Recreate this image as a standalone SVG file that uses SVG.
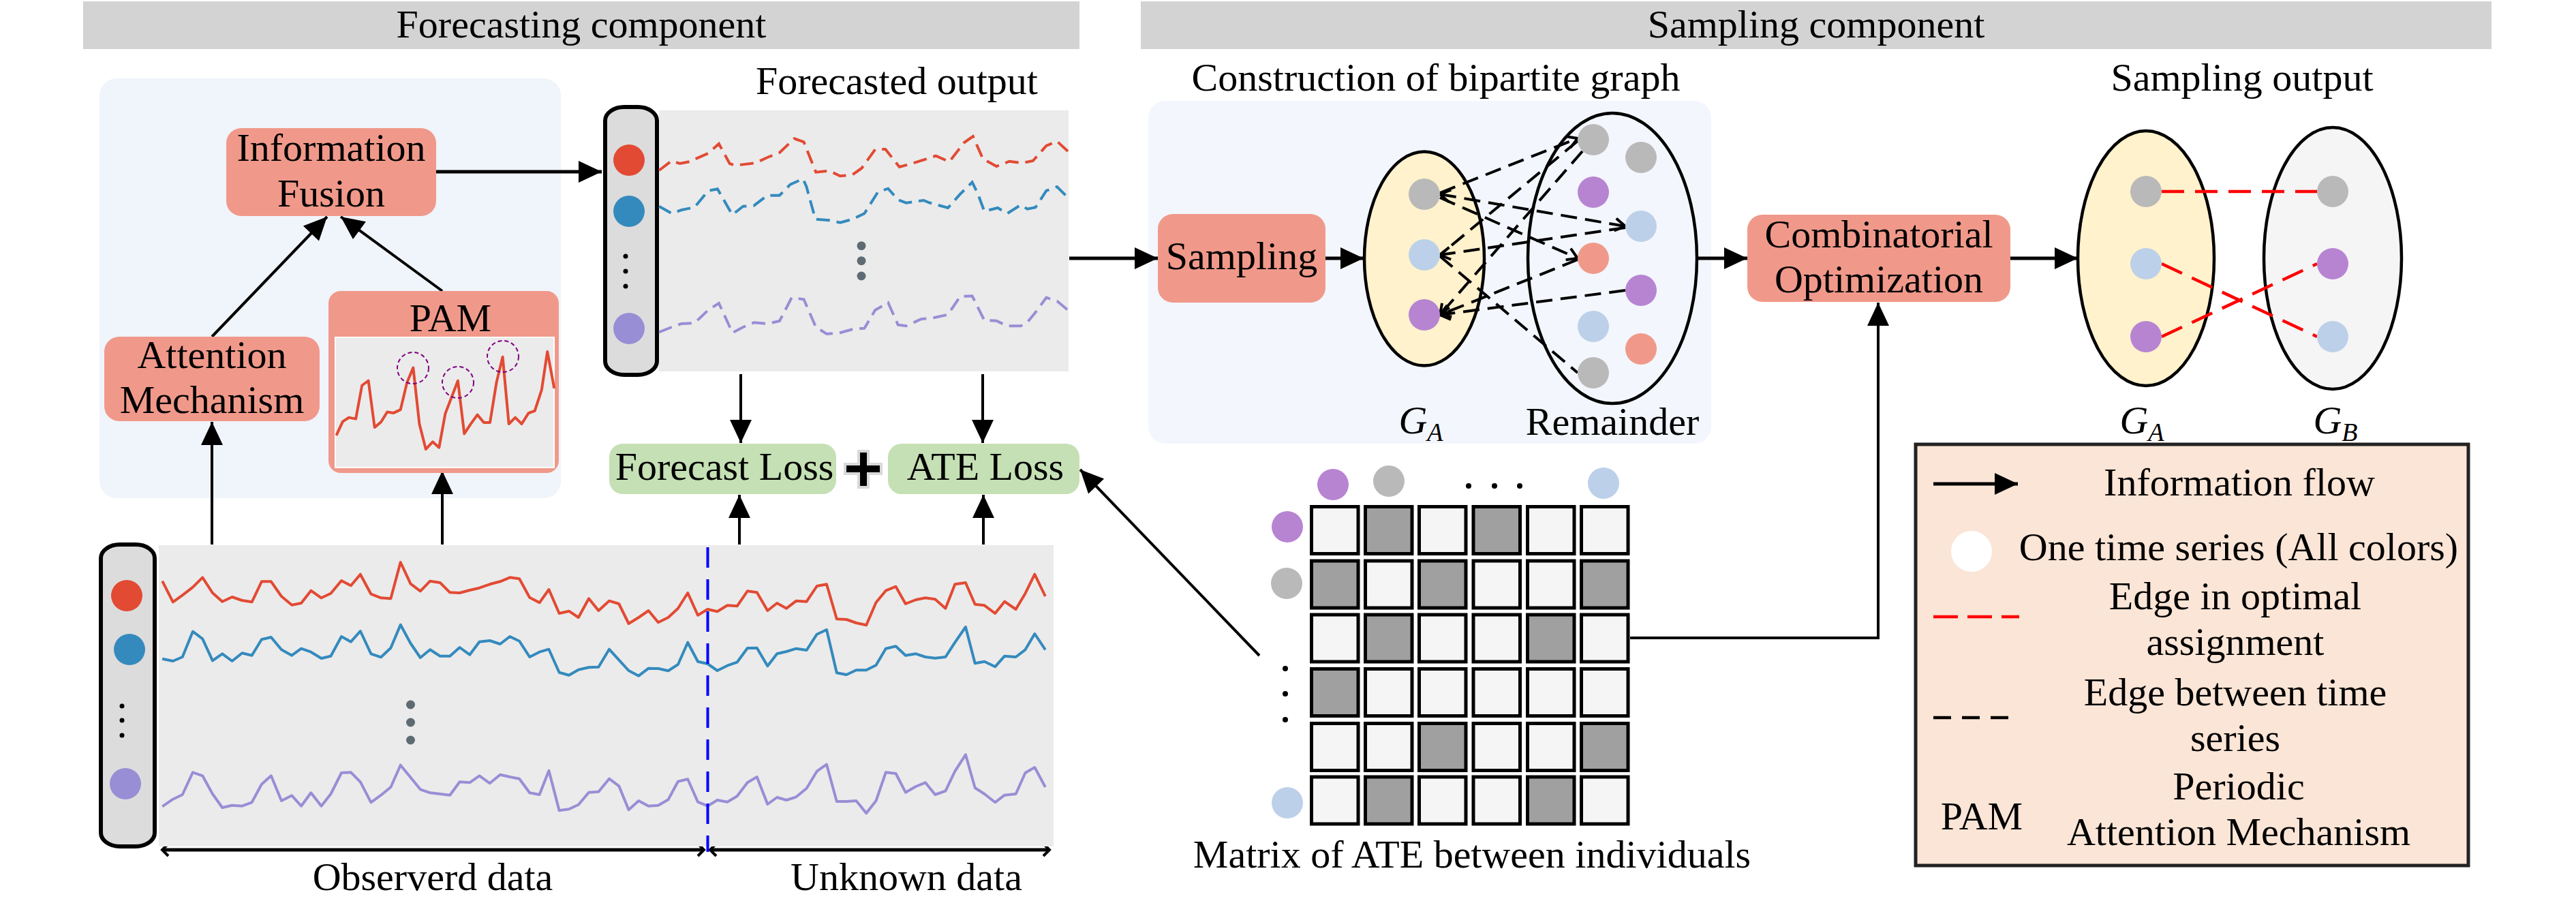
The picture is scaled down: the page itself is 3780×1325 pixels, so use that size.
<svg xmlns="http://www.w3.org/2000/svg" width="3780" height="1325" viewBox="0 0 3780 1325">
<style>
text{font-family:"Liberation Serif","Times New Roman",serif;font-size:58px;fill:#000;text-anchor:middle}
.it{font-style:italic}
.box{fill:#F0998A}
.loss{fill:#C5E0B4}
.conn{stroke:#000;stroke-width:4;fill:none}
.thick{stroke:#000;stroke-width:5;fill:none}
.ts{fill:none;stroke-width:4;stroke-linejoin:round}
.tsd{fill:none;stroke-width:4;stroke-dasharray:20 10}
.red{stroke:#E24A33}.blue{stroke:#348ABD}.pur{stroke:#988ED5}
.ng{fill:#B9B9B9}.np{fill:#B784D2}.nb{fill:#BCD0E9}.ns{fill:#F0998A}
.bip{stroke:#000;stroke-width:4;fill:none;stroke-dasharray:24 12}
.opt{stroke:#FF0000;stroke-width:4.5;fill:none;stroke-dasharray:33 16}
.cl{fill:#F5F5F5;stroke:#000;stroke-width:5}
.cd{fill:#A0A0A0;stroke:#000;stroke-width:5}
.dot{fill:#5F6B73}
</style>
<defs>
<marker id="ah" markerUnits="userSpaceOnUse" markerWidth="34" markerHeight="32" refX="34" refY="16" orient="auto" overflow="visible"><path d="M0,0 L34,16 L0,32 z" fill="#000"/></marker>
<marker id="chev" markerUnits="userSpaceOnUse" markerWidth="24" markerHeight="24" refX="16" refY="9" orient="auto-start-reverse" overflow="visible"><path d="M1,0 L16,9 L1,18" fill="none" stroke="#000" stroke-width="4"/></marker>
<marker id="chev2" markerUnits="userSpaceOnUse" markerWidth="16" markerHeight="20" refX="9" refY="9" orient="auto-start-reverse" overflow="visible"><path d="M0,0 L9,9 L0,18" fill="none" stroke="#000" stroke-width="4"/></marker>
</defs>

<rect width="3780" height="1325" fill="#fff"/>

<!-- header bars -->
<g id="hdr-forecast"><rect x="122" y="2" width="1462" height="70" fill="#D3D3D3"/><text x="853" y="55">Forecasting component</text></g>
<g id="hdr-sampling"><rect x="1674" y="2" width="1982" height="70" fill="#D3D3D3"/><text x="2665" y="55">Sampling component</text></g>

<!-- panels -->
<rect id="panel-left" x="146" y="115" width="677" height="616" rx="25" fill="#F0F4FB"/>
<rect id="panel-bip" x="1685" y="148" width="826" height="503" rx="25" fill="#F3F6FC"/>

<!-- connectors -->
<g id="connectors">
<path class="thick" d="M640,252 H883" marker-end="url(#ah)"/>
<path class="conn" d="M311,494 L480,318" marker-end="url(#ah)"/>
<path class="conn" d="M649,427 L500,318" marker-end="url(#ah)"/>
<path class="conn" d="M311,799 V619" marker-end="url(#ah)"/>
<path class="conn" d="M649,799 V691" marker-end="url(#ah)"/>
<path class="conn" d="M1087,549 V650" marker-end="url(#ah)"/>
<path class="conn" d="M1442,549 V650" marker-end="url(#ah)"/>
<path class="conn" d="M1085,799 V726" marker-end="url(#ah)"/>
<path class="conn" d="M1443,799 V726" marker-end="url(#ah)"/>
<path class="thick" d="M1569,379 H1699" marker-end="url(#ah)"/>
<path class="thick" d="M1945,379 H2001" marker-end="url(#ah)"/>
<path class="thick" d="M2490,379 H2564" marker-end="url(#ah)"/>
<path class="thick" d="M2950,379 H3049" marker-end="url(#ah)"/>
<path class="conn" d="M2392,936 H2756 V444" marker-end="url(#ah)"/>
<path class="conn" d="M1848,962 L1585,689" marker-end="url(#ah)"/>
<path class="thick" d="M238,1247 H1033" marker-start="url(#chev2)" marker-end="url(#chev2)"/>
<path class="thick" d="M1042,1247 H1540" marker-start="url(#chev2)" marker-end="url(#chev2)"/>
</g>

<!-- Information Fusion -->
<g id="info-fusion"><rect class="box" x="332" y="188" width="308" height="129" rx="22"/><text x="486" y="236">Information</text><text x="486" y="303">Fusion</text></g>
<g id="attention"><rect class="box" x="153" y="494" width="316" height="124" rx="22"/><text x="311" y="540">Attention</text><text x="311" y="606">Mechanism</text></g>
<g id="pam">
<rect class="box" x="482" y="427" width="338" height="267" rx="18"/>
<text x="661" y="486">PAM</text>
<rect x="492" y="495" width="321" height="191" fill="#EBEBEB" stroke="#fff" stroke-width="2"/>
<polyline class="ts red" points="493.5,638.9 502.9,618.7 512,612.6 522.1,614.6 531.2,565.5 540.6,558.7 549.7,627.1 559.1,619.3 568.2,604.5 577.6,605.9 587.7,601.1 597.2,561.4 606.3,539.5 615.4,622 624.8,659.1 634.9,648.3 644.3,656.7 653.4,606.9 671.9,558.7 681.3,636.5 690.4,622.7 700.5,608.6 710,620 719,620 728.5,561.4 737.6,523.7 746.7,622 756.1,612.6 765.5,622 775.6,606.2 784.7,602.8 794.8,572.2 803.2,516 813.3,569.8"/>
<g fill="none" stroke="#800080" stroke-width="2" stroke-dasharray="6 4"><circle cx="606" cy="540" r="23"/><circle cx="672" cy="561" r="23"/><circle cx="738" cy="523" r="23"/></g>
</g>

<!-- forecasted output -->
<g id="forecast-output">
<text x="1316" y="138">Forecasted output</text>
<rect x="888" y="157" width="76" height="393" rx="28" ry="20" fill="#DCDCDC" stroke="#000" stroke-width="6"/>
<circle cx="923" cy="235" r="23" fill="#E24A33"/>
<circle cx="923" cy="310" r="23" fill="#348ABD"/>
<circle cx="918" cy="376" r="3.5"/><circle cx="918" cy="398" r="3.5"/><circle cx="918" cy="420" r="3.5"/>
<circle cx="923" cy="482" r="23" fill="#988ED5"/>
<rect x="967" y="162" width="601" height="383" fill="#EBEBEB"/>
<polyline class="tsd red" points="967.1,250 985.7,236 997.6,240 1011.4,237.3 1039.1,225 1054.9,211 1070.7,240 1078.6,242.7 1108.3,239.3 1126.1,231 1143.9,224 1165.6,203.3 1179.5,208.3 1197.2,252.7 1217,250.7 1232.8,258.3 1250.6,256.7 1264.5,246.7 1284.2,219.3 1299.3,219 1319.8,245 1345.5,237.7 1373.2,228.7 1393,237.3 1414.7,209.3 1427.8,200 1442.4,233.3 1462.2,244 1481.2,236.7 1499.7,239.3 1515.6,236 1535.3,214 1551.1,207.3 1567,222"/>
<polyline class="tsd blue" points="967.1,302.7 985.7,313.3 999.5,308.3 1019.3,304 1039.1,280 1052.9,277.3 1068.7,305 1074.7,315 1090.5,302.7 1106.3,301.7 1126.1,286.7 1143.9,286.7 1159.7,270.7 1178.3,262.3 1183.4,274 1196.5,321.7 1217,323.3 1232.8,326.7 1250.6,321.7 1268.4,313.3 1288.2,281.7 1303.2,276.7 1317.8,293.3 1329.7,297.7 1355.4,294 1363.3,297.3 1391,305 1408.8,285 1426.6,267.3 1434.5,283.3 1444.4,310 1464.1,305 1478,313.3 1497.8,300.7 1507.6,306.7 1519.5,304.3 1535.3,280 1551.1,274 1567,290"/>
<polyline class="tsd pur" points="967.1,487.3 985.7,480 999.5,475 1019.3,474 1039.1,455 1054.9,445 1068.7,475 1074.7,488.3 1090.5,480 1106.3,473.3 1126.1,475 1143.9,471 1161.7,436.7 1179.5,439.3 1197.2,480 1213.1,490 1232.8,488.3 1250.6,483.3 1268.4,481.7 1284.2,455 1303.2,444 1317.8,476.7 1329.7,478.3 1351.5,468.3 1371.2,466 1391,461.7 1408.8,435 1426.6,434.3 1444.4,470 1462.2,470.7 1478,478.3 1497.8,478.3 1507.6,472.7 1519.5,458.3 1535.3,436.7 1551.1,441.7 1567,455"/>
<circle class="dot" cx="1264" cy="360.7" r="6.5"/><circle class="dot" cx="1264" cy="382.7" r="6.5"/><circle class="dot" cx="1264" cy="405" r="6.5"/>
</g>

<!-- losses -->
<g id="forecast-loss"><rect class="loss" x="894" y="651" width="333" height="74" rx="20"/><text x="1063" y="704">Forecast Loss</text></g>
<g id="plus"><path d="M1260,662 H1274 V681 H1293 V695 H1274 V715 H1260 V695 H1240 V681 H1260 Z" fill="#000" stroke="#D9D9D9" stroke-width="4"/></g>
<g id="ate-loss"><rect class="loss" x="1303" y="651" width="281" height="74" rx="20"/><text x="1446" y="704">ATE Loss</text></g>

<!-- observed / unknown data -->
<g id="input-series">
<rect x="148" y="799" width="79" height="443" rx="28" ry="20" fill="#DCDCDC" stroke="#000" stroke-width="6"/>
<circle cx="186" cy="874" r="23" fill="#E24A33"/>
<circle cx="190" cy="953" r="23" fill="#348ABD"/>
<circle cx="179" cy="1036" r="3.5"/><circle cx="179" cy="1057" r="3.5"/><circle cx="179" cy="1079" r="3.5"/>
<circle cx="184" cy="1150" r="23" fill="#988ED5"/>
<rect x="233" y="800" width="1313" height="442" fill="#EBEBEB"/>
<polyline class="ts red" points="238.2,852.7 253.8,883.3 267.7,873.3 282.9,861.7 297.2,847.3 311.9,870 326.2,882.7 340.6,876 355.3,881 369.6,883.3 383.9,853.3 397.8,853.3 413,875 428.2,887.7 442,885 456.3,866.7 471.5,877.3 485.4,870.7 501,852 514.9,859.3 528.8,842.7 544.4,871.7 559.1,877.3 573.4,878.3 587.7,825 602.5,856.7 616.8,867.3 631.1,852.7 645.8,855 660.2,869.3 674.5,870 689.2,866 703.5,862.7 718.7,857.3 733.9,853.3 748.2,847.3 762.1,849.3 777.2,876.7 791.6,884.3 805.4,865 820.6,900 834.9,896.7 848.8,906 864,878.3 878.3,896 893.9,881.7 908.2,886 922.5,915 937.2,906 951.6,896 965.9,913.3 980.6,906 994.9,892.7 1009.2,870 1024,902.7 1038.3,894 1052.6,897.3 1067.3,888.3 1081.6,889.3 1096.8,867.3 1110.7,869.3 1126.3,896 1140.2,885 1154.1,892.7 1168.4,881.7 1183.6,882.7 1198.7,860 1213,857.3 1227.8,908.3 1242.1,909 1256.4,914 1271.2,917.3 1285.5,884 1299.8,866.7 1314.5,860.7 1328.8,886 1344,880 1357.9,877.3 1372.2,879.3 1387.4,892.7 1401.3,857.3 1416.9,855 1430.7,886.7 1444.6,888.3 1460.2,900 1474.1,882.7 1490.6,894 1504.5,870.7 1518.3,842.7 1533.9,875"/>
<polyline class="ts blue" points="238.2,966.7 253.8,970 267.7,964 282.9,926.7 297.2,937.3 311.9,969.3 326.2,959.3 340.6,970 355.3,958.3 369.6,961.7 383.9,938.3 397.8,935 413,953.3 428.2,961.7 442,951.7 456.3,956.7 471.5,966 485.4,962.7 501,934 514.9,941.7 528.8,926 544.4,959.3 559.1,964.3 573.4,950.7 587.7,916.7 602.5,944 616.8,965 631.1,953.3 645.8,962.7 660.2,962.7 674.5,950 689.2,960.7 703.5,941.7 718.7,940 733.9,945 748.2,934 762.1,940.7 777.2,964 791.6,956.7 805.4,952.7 820.6,986.7 834.9,990.7 848.8,982.7 864,979.3 878.3,978.7 893.9,952.7 908.2,968.3 922.5,984 937.2,991.7 951.6,980.7 965.9,981 980.6,984.3 994.9,975 1009.2,942.7 1024,970.7 1038.3,974 1052.6,984 1067.3,976.7 1081.6,971.7 1096.8,951 1110.7,950.7 1126.3,977.3 1140.2,959.3 1154.1,956 1168.4,951.7 1183.6,954 1198.7,930.7 1213,924 1227.8,987.3 1242.1,990 1256.4,983.3 1271.2,983.3 1285.5,976 1299.8,951.7 1314.5,948.3 1328.8,961.7 1344,959.3 1357.9,964 1372.2,965.7 1387.4,964 1401.3,942.7 1416.9,920 1430.7,973.3 1444.6,970.7 1460.2,978.3 1474.1,962.7 1490.6,964 1504.5,953.3 1518.3,930 1533.9,953.3"/>
<polyline class="ts pur" points="238.2,1183.3 253.8,1172.7 267.7,1166 282.9,1133.3 297.2,1138.3 311.9,1165 326.2,1185 340.6,1181.7 355.3,1182.7 369.6,1177.3 383.9,1150.7 397.8,1138.3 413,1175 428.2,1167.3 442,1182.7 456.3,1163.3 471.5,1182.7 485.4,1165 501,1134 514.9,1133.3 528.8,1147.3 544.4,1177.3 559.1,1166.7 573.4,1155 587.7,1122.7 602.5,1140.7 616.8,1158.3 631.1,1163.3 645.8,1165 660.2,1166.7 674.5,1147.3 689.2,1148.3 703.5,1138.3 718.7,1149.3 733.9,1136.7 748.2,1140 762.1,1142.7 777.2,1163.3 791.6,1166 805.4,1130.7 820.6,1189.3 834.9,1187.3 848.8,1180.7 864,1162.7 878.3,1161.7 893.9,1142.7 908.2,1153.3 922.5,1188.3 937.2,1175 951.6,1182.7 965.9,1181.7 980.6,1173.3 994.9,1146.7 1009.2,1143.3 1024,1176.7 1038.3,1182.7 1052.6,1174 1067.3,1176.7 1081.6,1168.3 1096.8,1148.3 1110.7,1140 1126.3,1180 1140.2,1170 1154.1,1174 1168.4,1169.3 1183.6,1156.7 1198.7,1131.7 1213,1121.7 1227.8,1176 1242.1,1176 1256.4,1175 1271.2,1193.3 1285.5,1175 1299.8,1133.3 1314.5,1135 1328.8,1162.7 1344,1154 1357.9,1148.3 1372.2,1166 1387.4,1160.7 1401.3,1131.7 1416.9,1107.3 1430.7,1156 1444.6,1165 1460.2,1177.3 1474.1,1166.7 1490.6,1165 1504.5,1134 1518.3,1126 1533.9,1155"/>
<circle class="dot" cx="602.5" cy="1034" r="6.5"/><circle class="dot" cx="602.5" cy="1060" r="6.5"/><circle class="dot" cx="602.5" cy="1086" r="6.5"/>
<line x1="1038.5" y1="803" x2="1038.5" y2="1250" stroke="#0000FF" stroke-width="4" stroke-dasharray="30 17"/>
<text x="635" y="1306">Observerd data</text>
<text x="1330" y="1306">Unknown data</text>
</g>

<!-- Sampling -->
<g id="sampling"><rect class="box" x="1699" y="314" width="246" height="130" rx="22"/><text x="1822" y="395">Sampling</text></g>

<!-- bipartite construction -->
<g id="bipartite">
<text x="2107" y="133">Construction of bipartite graph</text>
<ellipse cx="2090" cy="379.5" rx="88" ry="157" fill="#FFF2CC" stroke="#000" stroke-width="4.5"/>
<ellipse cx="2366" cy="379" rx="124" ry="213" fill="#F3F6FC" stroke="#000" stroke-width="4.5"/>
<g id="bip-edges">
<path class="bip" d="M2113,283 L2315,203" marker-end="url(#chev)"/>
<path class="bip" d="M2322,222 L2113,462" marker-end="url(#chev)"/>
<path class="bip" d="M2113,285 L2385,332" marker-start="url(#chev)" marker-end="url(#chev)"/>
<path class="bip" d="M2113,290 L2315,379" marker-end="url(#chev)"/>
<path class="bip" d="M2385,334 L2113,374" marker-end="url(#chev)"/>
<path class="bip" d="M2113,376 L2315,547"/>
<path class="bip" d="M2315,381 L2113,462" marker-end="url(#chev)"/>
<path class="bip" d="M2385,426 L2113,462" marker-end="url(#chev)"/>
<path class="bip" d="M2315,207 L2113,374"/>
</g>
<circle class="ng" cx="2090" cy="285" r="23"/><circle class="nb" cx="2090" cy="374" r="23"/><circle class="np" cx="2090" cy="462" r="23"/>
<circle class="ng" cx="2338" cy="205" r="23"/><circle class="ng" cx="2408" cy="231" r="23"/>
<circle class="np" cx="2338" cy="282" r="23"/><circle class="nb" cx="2408" cy="332" r="23"/>
<circle class="ns" cx="2338" cy="379" r="23"/><circle class="np" cx="2408" cy="426" r="23"/>
<circle class="nb" cx="2338" cy="479" r="23"/><circle class="ns" cx="2408" cy="512" r="23"/>
<circle class="ng" cx="2338" cy="547" r="23"/>
<text class="it" x="2085" y="636">G<tspan font-size="38" dy="11">A</tspan></text>
<text x="2366" y="638">Remainder</text>
</g>

<!-- Combinatorial Optimization -->
<g id="comb-opt"><rect class="box" x="2564" y="315" width="386" height="128" rx="22"/><text x="2757" y="363">Combinatorial</text><text x="2757" y="429">Optimization</text></g>

<!-- sampling output -->
<g id="sampling-output">
<text x="3290" y="133">Sampling output</text>
<ellipse cx="3149" cy="379" rx="100" ry="187" fill="#FFF2CC" stroke="#000" stroke-width="4.5"/>
<ellipse cx="3423" cy="379" rx="101" ry="192" fill="#F5F5F5" stroke="#000" stroke-width="4.5"/>
<path class="opt" d="M3172,281 H3400"/>
<path class="opt" d="M3172,387 L3400,494"/>
<path class="opt" d="M3172,494 L3400,387"/>
<circle class="ng" cx="3149" cy="281" r="23"/><circle class="nb" cx="3149" cy="387" r="23"/><circle class="np" cx="3149" cy="494" r="23"/>
<circle class="ng" cx="3423" cy="281" r="23"/><circle class="np" cx="3423" cy="387" r="23"/><circle class="nb" cx="3423" cy="494" r="23"/>
<text class="it" x="3143" y="636">G<tspan font-size="38" dy="11">A</tspan></text>
<text class="it" x="3427" y="636">G<tspan font-size="38" dy="11">B</tspan></text>
</g>

<!-- ATE matrix -->
<g id="ate-matrix">
<circle class="np" cx="1956" cy="711" r="23"/><circle class="ng" cx="2038" cy="706" r="23"/>
<circle cx="2155" cy="713" r="4"/><circle cx="2193" cy="713" r="4"/><circle cx="2230" cy="713" r="4"/>
<circle class="nb" cx="2353" cy="709" r="23"/>
<circle class="np" cx="1889" cy="773" r="23"/><circle class="ng" cx="1888" cy="856" r="23"/>
<circle cx="1886" cy="981" r="4"/><circle cx="1886" cy="1018" r="4"/><circle cx="1886" cy="1056" r="4"/>
<circle class="nb" cx="1889" cy="1178" r="23"/>
<g>
<rect class="cl" x="1924.5" y="743.5" width="68.5" height="69"/><rect class="cd" x="2003.5" y="743.5" width="68.5" height="69"/><rect class="cl" x="2082.5" y="743.5" width="68.5" height="69"/><rect class="cd" x="2162" y="743.5" width="68.5" height="69"/><rect class="cl" x="2241.5" y="743.5" width="68.5" height="69"/><rect class="cl" x="2320.5" y="743.5" width="68.5" height="69"/>
<rect class="cd" x="1924.5" y="823" width="68.5" height="69"/><rect class="cl" x="2003.5" y="823" width="68.5" height="69"/><rect class="cd" x="2082.5" y="823" width="68.5" height="69"/><rect class="cl" x="2162" y="823" width="68.5" height="69"/><rect class="cl" x="2241.5" y="823" width="68.5" height="69"/><rect class="cd" x="2320.5" y="823" width="68.5" height="69"/>
<rect class="cl" x="1924.5" y="902" width="68.5" height="69"/><rect class="cd" x="2003.5" y="902" width="68.5" height="69"/><rect class="cl" x="2082.5" y="902" width="68.5" height="69"/><rect class="cl" x="2162" y="902" width="68.5" height="69"/><rect class="cd" x="2241.5" y="902" width="68.5" height="69"/><rect class="cl" x="2320.5" y="902" width="68.5" height="69"/>
<rect class="cd" x="1924.5" y="981.5" width="68.5" height="69"/><rect class="cl" x="2003.5" y="981.5" width="68.5" height="69"/><rect class="cl" x="2082.5" y="981.5" width="68.5" height="69"/><rect class="cl" x="2162" y="981.5" width="68.5" height="69"/><rect class="cl" x="2241.5" y="981.5" width="68.5" height="69"/><rect class="cl" x="2320.5" y="981.5" width="68.5" height="69"/>
<rect class="cl" x="1924.5" y="1061.5" width="68.5" height="69"/><rect class="cl" x="2003.5" y="1061.5" width="68.5" height="69"/><rect class="cd" x="2082.5" y="1061.5" width="68.5" height="69"/><rect class="cl" x="2162" y="1061.5" width="68.5" height="69"/><rect class="cl" x="2241.5" y="1061.5" width="68.5" height="69"/><rect class="cd" x="2320.5" y="1061.5" width="68.5" height="69"/>
<rect class="cl" x="1924.5" y="1140" width="68.5" height="69"/><rect class="cd" x="2003.5" y="1140" width="68.5" height="69"/><rect class="cl" x="2082.5" y="1140" width="68.5" height="69"/><rect class="cl" x="2162" y="1140" width="68.5" height="69"/><rect class="cd" x="2241.5" y="1140" width="68.5" height="69"/><rect class="cl" x="2320.5" y="1140" width="68.5" height="69"/>
</g>
<text x="2160" y="1273">Matrix of ATE between individuals</text>
</g>

<!-- legend -->
<g id="legend">
<rect x="2811" y="652" width="811" height="618" fill="#FBE5D6" stroke="#222" stroke-width="5"/>
<path class="thick" d="M2837,710 H2961" marker-end="url(#ah)"/>
<text x="3286" y="727">Information flow</text>
<circle cx="2893" cy="809" r="30" fill="#fff"/>
<text x="3285" y="822">One time series (All colors)</text>
<path d="M2837,905 H2963" stroke="#FF0000" stroke-width="4.5" stroke-dasharray="36 14" fill="none"/>
<text x="3280" y="894">Edge in optimal</text>
<text x="3280" y="961">assignment</text>
<path d="M2837,1053 H2948" stroke="#000" stroke-width="4.5" stroke-dasharray="26 16" fill="none"/>
<text x="3280" y="1035">Edge between time</text>
<text x="3280" y="1102">series</text>
<text x="2908" y="1217">PAM</text>
<text x="3285" y="1173">Periodic</text>
<text x="3285" y="1240">Attention Mechanism</text>
</g>
</svg>
